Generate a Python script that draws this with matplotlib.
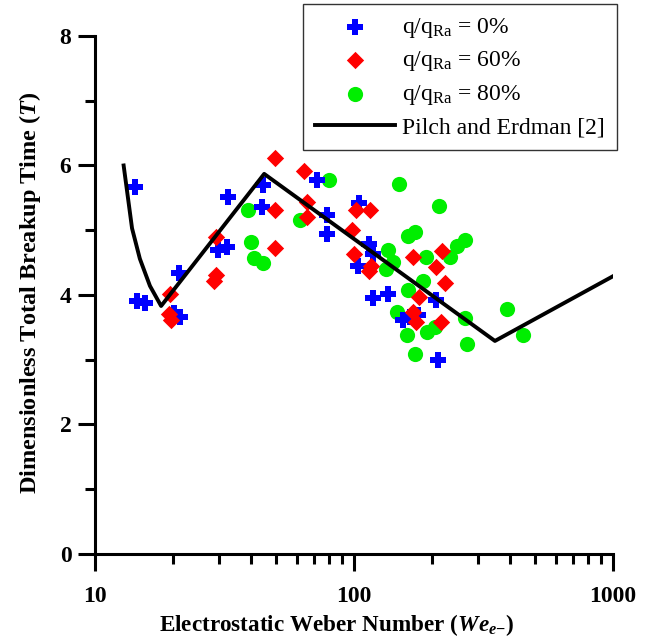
import matplotlib
matplotlib.use("Agg")
import matplotlib.pyplot as plt
from matplotlib.ticker import LogLocator, NullFormatter, FixedLocator

plt.rcParams['font.family'] = ['Liberation Serif', 'DejaVu Serif']
plt.rcParams['mathtext.fontset'] = 'custom'
plt.rcParams['mathtext.rm'] = 'Liberation Serif'
plt.rcParams['mathtext.it'] = 'Liberation Serif:italic'
plt.rcParams['mathtext.bf'] = 'Liberation Serif:bold'
plt.rcParams['mathtext.bfit'] = 'Liberation Serif:bold:italic'

# q/qRa = 0%
we_0 = [14.3, 14.5, 15.6, 21.1, 21.3, 20.2, 29.9, 32.4, 32.5, 44.7, 44.3, 72.2, 78.5, 78.5,
        104.8, 114.6, 118.1, 103.9, 118.7, 135.7, 207.4, 155, 177.1, 164.5, 211.7]
t_0 = [5.67, 3.90, 3.87, 4.34, 3.66, 3.72, 4.69, 4.74, 5.51, 5.70, 5.36, 5.77, 5.24, 4.94,
       5.42, 4.78, 4.63, 4.45, 3.95, 4.02, 3.92, 3.61, 3.69, 3.66, 3.00]
# q/qRa = 60%
we_60 = [19.5, 19.3, 19.65, 29.2, 29.2, 28.8, 49.5, 49.5, 49.5, 64.3, 65.7, 66.0, 101.5,
         114.8, 98, 100, 116, 114.3, 169.4, 218, 207.4, 224.6, 178.7, 169, 172.8, 216.7]
t_60 = [4.02, 3.71, 3.61, 4.90, 4.31, 4.21, 6.11, 5.31, 4.73, 5.92, 5.44, 5.20, 5.31,
        5.31, 5.01, 4.64, 4.45, 4.37, 4.58, 4.68, 4.43, 4.18, 3.97, 3.74, 3.59, 3.58]
# q/qRa = 80%
we_80 = [38.8, 39.9, 41.1, 44.4, 61.9, 80.3, 149.2, 212.8, 162.1, 172, 134.9, 142, 133,
         189, 249.2, 268.3, 234.9, 184, 162.1, 146.3, 160.4, 190.6, 205.3, 172, 268.3,
         273.8, 388.6, 450.5]
t_80 = [5.31, 4.82, 4.57, 4.50, 5.16, 5.77, 5.72, 5.38, 4.91, 4.98, 4.69, 4.51, 4.40,
        4.58, 4.75, 4.85, 4.59, 4.21, 4.07, 3.74, 3.38, 3.43, 3.51, 3.09, 3.64,
        3.24, 3.78, 3.38]
# Pilch and Erdman [2]
we_pe = [12.9, 13.9, 14.9, 16.3, 18.0, 45.0, 350.0, 1000.0]
t_pe = [6.0, 5.03, 4.56, 4.14, 3.83, 5.87, 3.29, 4.29]

labels = [r'q/q$_{\mathrm{Ra}}$ = 0%', r'q/q$_{\mathrm{Ra}}$ = 60%',
          r'q/q$_{\mathrm{Ra}}$ = 80%', 'Pilch and Erdman [2]']

fig = plt.figure(figsize=(6.56, 6.4), dpi=100)
ax = fig.add_axes([0.1448, 0.1344, 0.7897, 0.8094])

h0 = ax.scatter(we_0, t_0, marker='P', s=135, color='#0000ff', linewidths=0, zorder=3)
h60 = ax.scatter(we_60, t_60, marker='D', s=78, color='#ff0000', linewidths=0, zorder=3)
h80 = ax.scatter(we_80, t_80, marker='o', s=120, color='#00ee00', linewidths=0, zorder=2)
hpe, = ax.plot(we_pe, t_pe, color='black', lw=2.8, zorder=4)

ax.set_xscale('log')
ax.set_xlim(10, 1000)
ax.set_ylim(0, 8)
ax.xaxis.set_major_locator(FixedLocator([10, 100, 1000]))
ax.xaxis.set_minor_locator(LogLocator(base=10, subs=range(2, 10)))
ax.xaxis.set_minor_formatter(NullFormatter())
ax.set_xticklabels(['10', '100', '1000'])
ax.yaxis.set_major_locator(FixedLocator([0, 2, 4, 6, 8]))
ax.yaxis.set_minor_locator(FixedLocator([1, 3, 5, 7]))

for s in ['top', 'right']:
    ax.spines[s].set_visible(False)
for s in ['left', 'bottom']:
    ax.spines[s].set_linewidth(2.2)
ax.tick_params(which='major', direction='out', length=12, width=2.2, labelsize=17)
ax.tick_params(which='minor', direction='out', length=7, width=2.2)
ax.tick_params(axis='x', which='major', pad=11)
ax.tick_params(axis='y', which='major', pad=5)
for lab in ax.get_xticklabels() + ax.get_yticklabels():
    lab.set_fontweight('bold')

ax.set_xlabel(r'Electrostatic Weber Number ($\mathbfit{We}_{\mathbfit{e}\mathbf{-}}$)',
              fontsize=16.7, fontweight='bold')
ax.xaxis.set_label_coords(0.467, -0.112)
ax.set_ylabel(r'Dimensionless Total Breakup Time ($\mathbfit{T}$)',
              fontsize=17.5, fontweight='bold')
ax.yaxis.set_label_coords(-0.10, 0.505)

leg = ax.legend([h0, h60, h80, hpe], labels, loc='upper right',
                bbox_to_anchor=(1.0077, 1.0618), borderaxespad=0, fontsize=17,
                frameon=True, fancybox=False, edgecolor='black', handlelength=3.4,
                handletextpad=0.3, borderpad=0.5, labelspacing=0.41, scatterpoints=1)
leg.get_frame().set_linewidth(1.0)

fig.savefig('out.png', dpi=100)
